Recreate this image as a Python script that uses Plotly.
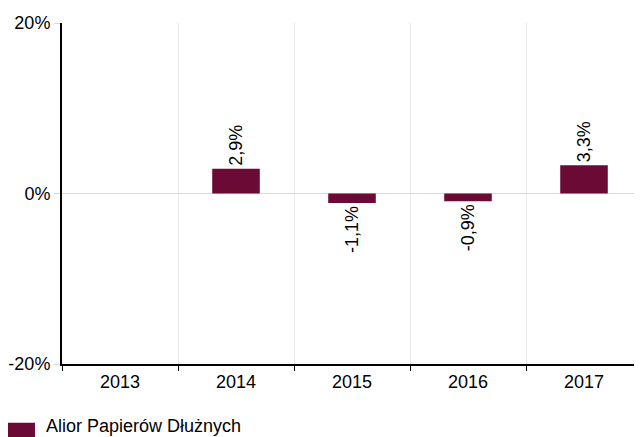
import plotly.graph_objects as go

years = ["2013", "2014", "2015", "2016", "2017"]
values = [None, 2.9, -1.1, -0.9, 3.3]
series_name = "Alior Papierów Dłużnych"
y_ticks = [-20, 0, 20]
y_tick_labels = ["-20%", "0%", "20%"]
labels = ["" if v is None else f"{v:.1f}%".replace(".", ",") for v in values]

BAR_COLOR = "#6b0a35"

fig = go.Figure()
fig.add_trace(go.Bar(
    x=years, y=values, name=series_name,
    marker=dict(color=BAR_COLOR, line=dict(width=0)),
    width=0.41,
    text=labels, textposition="outside", textangle=-90,
    textfont=dict(family="Liberation Sans, Arial", size=18, color="#000000"),
    cliponaxis=False,
    showlegend=False,
))

# legend drawn as swatch + text (wide rectangular swatch like the reference)
fig.add_shape(type="rect", xref="paper", yref="paper",
              x0=-0.1069, x1=-0.0466, y0=-0.214, y1=-0.172,
              fillcolor=BAR_COLOR, line=dict(width=0))
fig.add_annotation(text=series_name, xref="paper", yref="paper",
                   x=-0.029, y=-0.213, xanchor="left", yanchor="bottom",
                   showarrow=False, font=dict(size=18, color="#000000"),
                   borderpad=0)

fig.update_layout(
    width=634, height=429,
    autosize=False,
    margin=dict(l=54, r=0, t=15, b=73, pad=0, autoexpand=False),
    paper_bgcolor="white", plot_bgcolor="white",
    font=dict(family="Liberation Sans, Arial", size=18, color="#000000"),
    showlegend=False,
    xaxis=dict(
        type="category", tickson="boundaries",
        showgrid=True, gridcolor="#ebebeb", gridwidth=1,
        ticks="outside", ticklen=5, tickcolor="#000000",
        showline=True, linecolor="#000000", linewidth=2,
        tickfont=dict(size=18), automargin=False,
    ),
    yaxis=dict(
        range=[-20, 20], tickmode="array", tickvals=y_ticks, ticktext=y_tick_labels,
        showgrid=True, gridcolor="#d9d9d9", gridwidth=1,
        zeroline=True, zerolinecolor="#d9d9d9", zerolinewidth=1,
        ticks="outside", ticklen=6, tickcolor="#d9d9d9",
        showline=True, linecolor="#000000", linewidth=2,
        tickfont=dict(size=18), automargin=False,
    ),
    bargap=0.59,
)

fig.write_html("out.html")
